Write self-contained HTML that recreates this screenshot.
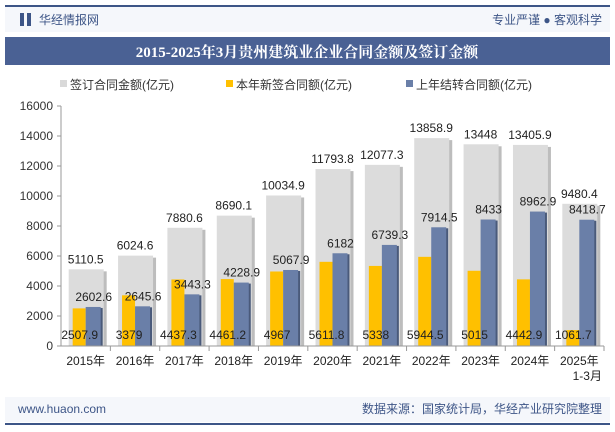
<!DOCTYPE html>
<html><head><meta charset="utf-8"><style>
body{margin:0;width:615px;height:427px;overflow:hidden;background:#fff;font-family:"Liberation Sans","Noto Sans CJK SC",sans-serif}
</style></head><body>
<svg width="615" height="427" xmlns="http://www.w3.org/2000/svg" font-family="Liberation Sans, Noto Sans CJK SC, sans-serif">
<rect x="5" y="5" width="605" height="2" fill="#3d5587"/>
<rect x="5" y="7" width="605" height="25" fill="#f5f7fb"/>
<rect x="20" y="13" width="4" height="13" fill="#3d5587"/>
<rect x="27" y="13" width="4" height="13" fill="#3d5587"/>
<text x="39" y="24" font-size="12" fill="#3d5587">华经情报网</text>
<text x="602" y="24" font-size="12" fill="#3d5587" text-anchor="end">专业严谨 ● 客观科学</text>
<rect x="5" y="37" width="605" height="28" fill="#4a6194"/>
<text x="307" y="57" font-size="15" font-weight="bold" fill="#fff" text-anchor="middle" font-family="Liberation Serif, Noto Serif CJK SC, serif">2015-2025年3月贵州建筑业企业合同金额及签订金额</text>
<g font-size="12" fill="#333">
<rect x="60" y="80" width="7" height="7" fill="#d9d9d9"/><text x="70" y="89">签订合同金额(亿元)</text>
<rect x="226" y="80" width="7" height="7" fill="#ffc000"/><text x="236" y="89">本年新签合同额(亿元)</text>
<rect x="406" y="80" width="7" height="7" fill="#6a7fa8"/><text x="416" y="89">上年结转合同额(亿元)</text>
</g>
<g id="chart"></g>
<rect x="5" y="397" width="605" height="25" fill="#f5f7fb"/>
<text x="18" y="413" font-size="12" fill="#3d5587">www.huaon.com</text>
<text x="602" y="413" font-size="12" fill="#3d5587" text-anchor="end">数据来源：国家统计局，华经产业研究院整理</text>
<rect x="5" y="423" width="605" height="2" fill="#3d5587"/>
</svg>
<script>
const categories=["2015年","2016年","2017年","2018年","2019年","2020年","2021年","2022年","2023年","2024年","2025年"];
const totalValues=[5110.5,6024.6,7880.6,8690.1,10034.9,11793.8,12077.3,13858.9,13448,13405.9,9480.4];
const newValues=[2507.9,3379,4437.3,4461.2,4967,5611.8,5338,5944.5,5015,4442.9,1061.7];
const carryValues=[2602.6,2645.6,3443.3,4228.9,5067.9,6182,6739.3,7914.5,8433,8962.9,8418.7];
const yTicks=[0,2000,4000,6000,8000,10000,12000,14000,16000];
const NS="http://www.w3.org/2000/svg";
const g=document.getElementById('chart');
const x0=61,x1=604,y0=346,y1=106,yMax=16000;
const band=(x1-x0)/categories.length;
const y=v=>y0-(v/yMax)*(y0-y1);
const cx=i=>x0+band*(i+0.5);
function mk(t,a,txt){const e=document.createElementNS(NS,t);for(const k in a)e.setAttribute(k,a[k]);if(txt!==undefined)e.textContent=txt;g.appendChild(e);return e;}
yTicks.forEach(v=>{
 const t=mk('text',{x:x0-8,y:y(v)+4,'font-size':12,fill:'#333','text-anchor':'end'},String(v));
 
 
 const l=mk('line',{x1:x0-4,x2:x0,y1:y(v),y2:y(v),stroke:'#999'});
 
 
});
const ax=mk('line',{x1:x0,x2:x0,y1:y1,y2:y0,stroke:'#999'});


categories.forEach((c,i)=>{
 const c0=cx(i);
 const sh=mk('rect',{x:c0-17+3,y:y(totalValues[i])+2,width:35,height:y0-y(totalValues[i])-2,fill:'#bdbdbd'});
 
 
 const tb=mk('rect',{x:c0-17,y:y(totalValues[i]),width:35,height:y0-y(totalValues[i]),fill:'#dcdcdc'});
 
 
 const nb=mk('rect',{x:c0-13,y:y(newValues[i]),width:13,height:y0-y(newValues[i]),fill:'#ffc000'});
 
 
 const cs=mk('rect',{x:c0+2,y:y(carryValues[i])+1,width:15,height:y0-y(carryValues[i])-1,fill:'#4a5a7a'});
 
 
 const cb=mk('rect',{x:c0,y:y(carryValues[i]),width:15,height:y0-y(carryValues[i]),fill:'#6a7fa8'});
 
 
 const tl=mk('text',{x:c0,y:y(totalValues[i])-6,'font-size':12,fill:'#222','text-anchor':'middle'},String(totalValues[i]));
 
 
 const nl=mk('text',{x:c0-6,y:y0-7,'font-size':12,fill:'#222','text-anchor':'middle'},String(newValues[i]));
 
 
 const cl=mk('text',{x:c0+8,y:y(carryValues[i])-6,'font-size':12,fill:'#222','text-anchor':'middle'},String(carryValues[i]));
 
 
 const xl=mk('text',{x:c0,y:y0+19,'font-size':12,fill:'#222','text-anchor':'middle'},c);
 
 
 const xt=mk('line',{x1:x0+band*(i+1),x2:x0+band*(i+1),y1:y0,y2:y0+5,stroke:'#999'});
 
 
});
const sub=mk('text',{x:cx(10)+8,y:y0+34,'font-size':12,fill:'#222','text-anchor':'middle'},'1-3月');


const xa=mk('line',{x1:x0,x2:x1,y1:y0,y2:y0,stroke:'#999'});


</script>
</body></html>
